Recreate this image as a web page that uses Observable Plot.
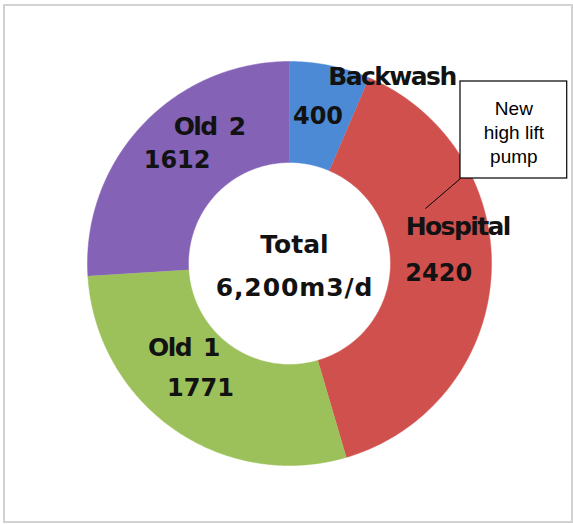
<!DOCTYPE html>
<html><head><meta charset="utf-8">
<script src="https://cdn.jsdelivr.net/npm/d3@7"></script>
<script src="https://cdn.jsdelivr.net/npm/@observablehq/plot@0.6"></script>
<style>
html,body{margin:0;padding:0;background:#fff;}
#wrap{position:relative;width:573px;height:524px;overflow:hidden;}
#wrap svg{position:absolute;left:0;top:0;}
#border{position:absolute;left:3px;top:4px;width:566px;height:515px;border:2px solid #d2d2d2;pointer-events:none;}
</style></head><body><div id="wrap"><div id="border"></div></div>
<script>
// ---- data ----
const categories = ["Backwash", "Hospital", "Old 1", "Old 2"];
const values = [400, 2420, 1771, 1612];
const centerTitle = "Total";
const centerValue = "6,200m3/d";
const calloutLines = ["New", "high lift", "pump"];

// ---- style / layout ----
const colors = ["#4D8AD5", "#D0504E", "#9CC15A", "#8462B6"];
const W = 573, H = 524, CX = 289, CY = 263, R = 202;
const INNER = 0.5, OUTER = 1;
const nameNudge = {"Backwash": [72, -38], "Hospital": [17, -46], "Old 1": [-19, -40], "Old 2": [30, -33]};

const arcs = d3.pie().sort(null).value(d => d.value)(categories.map((name, i) => ({name, value: values[i]})));
const ring = [];
for (const a of arcs) {
  const n = 120;
  for (let k = 0; k <= n; k++) {
    const t = a.startAngle + (a.endAngle - a.startAngle) * k / n;
    ring.push({name: a.data.name, x: OUTER * Math.sin(t), y: OUTER * Math.cos(t)});
  }
  for (let k = n; k >= 0; k--) {
    const t = a.startAngle + (a.endAngle - a.startAngle) * k / n;
    ring.push({name: a.data.name, x: INNER * Math.sin(t), y: INNER * Math.cos(t)});
  }
}
const labels = arcs.map(a => {
  const m = (a.startAngle + a.endAngle) / 2, r = (INNER + OUTER) / 2;
  return {name: a.data.name, value: a.data.value, x: r * Math.sin(m), y: r * Math.cos(m)};
});

// callout geometry in chart units (relative to the ring)
const box = {x1: 0.8465, x2: 1.3748, y1: 0.4208, y2: 0.901};
const leaderEnd = {x: 0.673, y: 0.272};

const nameMarks = labels.map(l => Plot.text([l], {
  x: "x", y: "y", text: "name", dx: nameNudge[l.name][0], dy: nameNudge[l.name][1],
  fontFamily: "DejaVu Sans", fontWeight: "bold", fontSize: 25, fill: "#121212"
}));

const chart = Plot.plot({
  width: W, height: H,
  marginTop: 0, marginRight: 0, marginBottom: 0, marginLeft: 0,
  x: {domain: [(0 - CX) / R, (W - CX) / R], axis: null},
  y: {domain: [(CY - H) / R, CY / R], axis: null},
  color: {domain: categories, range: colors},
  style: {background: "transparent"},
  marks: [
    Plot.line(ring, {x: "x", y: "y", z: "name", fill: "name", stroke: "name", strokeWidth: 0.5, curve: "linear"}),
    Plot.text(labels, {x: "x", y: "y", text: d => String(d.value), dx: -2, dy: 1,
      fontFamily: "DejaVu Sans", fontWeight: "bold", fontSize: 24, fill: "#121212"}),
    ...nameMarks,
    Plot.text([centerTitle], {x: 0, y: 0, text: d => d, dx: 5, dy: -19,
      fontFamily: "DejaVu Sans", fontWeight: "bold", fontSize: 25, fill: "#121212"}),
    Plot.text([centerValue], {x: 0, y: 0, text: d => d, dx: 5, dy: 24,
      fontFamily: "DejaVu Sans", fontWeight: "bold", fontSize: 25, fill: "#121212"}),
    Plot.link([box], {x1: d => d.x1, y1: d => d.y1, x2: () => leaderEnd.x, y2: () => leaderEnd.y, stroke: "#000", strokeWidth: 1}),
    Plot.rect([box], {x1: "x1", x2: "x2", y1: "y1", y2: "y2", fill: "#fff", stroke: "#000", strokeWidth: 1.2}),
    Plot.text([calloutLines.join("\n")], {x: (box.x1 + box.x2) / 2, y: (box.y1 + box.y2) / 2, text: d => d,
      fontFamily: "Liberation Sans", fontSize: 19, lineHeight: 1.27, fill: "#000", dy: 1})
  ]
});
// tighten / widen spacing to match the reference's lettering
d3.select(chart).selectAll("text").each(function () {
  const t = this.textContent;
  if (categories.includes(t)) {
    this.style.letterSpacing = "-1.6px";
    this.style.wordSpacing = "5px";
  } else if (t === centerValue) {
    this.style.letterSpacing = "0.9px";
  }
});
document.getElementById("wrap").prepend(chart);
</script>
</body></html>
